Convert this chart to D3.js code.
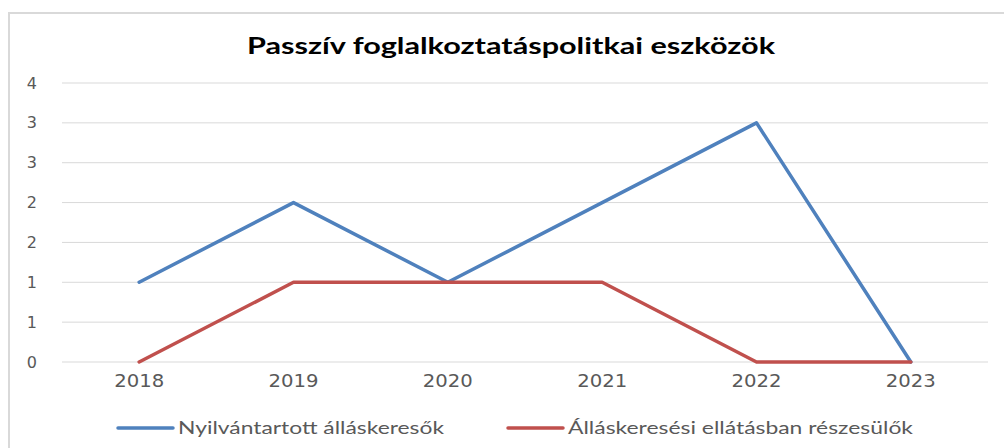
<!DOCTYPE html>
<html>
<head>
<meta charset="utf-8">
<script src="https://cdn.jsdelivr.net/npm/d3@7"></script>
<style>
  body { margin: 0; background: #fff; }
  svg { display: block; }
  .tick text { fill: #595959; }
</style>
</head>
<body>
<div id="chart"></div>
<script>
// data
const years = ['2018', '2019', '2020', '2021', '2022', '2023'];
const nyilvantartott = [1, 2, 1, 2, 3, 0];
const ellatasban = [0, 1, 1, 1, 0, 0];
const yTickValues = [0, 0.5, 1, 1.5, 2, 2.5, 3, 3.5];
const yTickLabels = ['0', '1', '1', '2', '2', '3', '3', '4'];
const seriesNames = ['Nyilvántartott álláskeresők', 'Álláskeresési ellátásban részesülők'];
const seriesColors = ['#4f81bd', '#c0504d'];

const W = 1004, H = 448;
const m = { t: 83, r: 16, b: 86, l: 62 };

const svg = d3.select('#chart').append('svg')
    .attr('width', W)
    .attr('height', H);

// chart area border
svg.append('rect')
    .attr('x', 9).attr('y', 13)
    .attr('width', W + 10).attr('height', H + 10)
    .attr('fill', 'none')
    .attr('stroke', '#d9d9d9')
    .attr('stroke-width', 2);

svg.append('text')
    .attr('x', 511).attr('y', 54)
    .attr('text-anchor', 'middle')
    .attr('font-family', 'Lato, "Open Sans", sans-serif')
    .attr('font-weight', 'bold')
    .attr('font-size', 22)
    .attr('textLength', 528)
    .attr('lengthAdjust', 'spacingAndGlyphs')
    .attr('fill', '#000')
    .text('Passzív foglalkoztatáspolitkai  eszközök');

const x = d3.scaleBand().domain(years).range([m.l, W - m.r]);
const y = d3.scaleLinear().domain([0, 3.5]).range([H - m.b, m.t]);

// gridlines
svg.append('g')
    .selectAll('line')
    .data(yTickValues)
    .join('line')
    .attr('x1', m.l).attr('x2', W - m.r)
    .attr('y1', d => y(d)).attr('y2', d => y(d))
    .attr('stroke', '#d9d9d9')
    .attr('stroke-width', 1);

const yAxis = svg.append('g')
    .attr('transform', `translate(${m.l},0)`)
    .call(d3.axisLeft(y).tickValues(yTickValues)
      .tickFormat((d, i) => yTickLabels[i]).tickSize(0).tickPadding(25));
yAxis.select('.domain').remove();
yAxis.selectAll('text')
    .attr('font-family', '"DejaVu Sans", sans-serif')
    .attr('font-size', 16);

const xAxis = svg.append('g')
    .attr('transform', `translate(0,${H - m.b})`)
    .call(d3.axisBottom(x).tickSize(0).tickPadding(13));
xAxis.select('.domain').remove();
xAxis.selectAll('text')
    .attr('font-family', '"DejaVu Sans", sans-serif')
    .attr('font-size', 17)
    .attr('textLength', 50)
    .attr('lengthAdjust', 'spacingAndGlyphs');

const line = d3.line()
    .x((d, i) => x(years[i]) + x.bandwidth() / 2)
    .y(d => y(d));

[nyilvantartott, ellatasban].forEach((s, k) => {
  svg.append('path')
      .datum(s)
      .attr('d', line)
      .attr('fill', 'none')
      .attr('stroke', seriesColors[k])
      .attr('stroke-width', 3.5)
      .attr('stroke-linejoin', 'round')
      .attr('stroke-linecap', 'round');
});

// legend
const legendX = [118, 508];
const legendLen = [266, 345];
const legend = svg.append('g');
seriesNames.forEach((name, k) => {
  legend.append('line')
      .attr('x1', legendX[k]).attr('x2', legendX[k] + 55)
      .attr('y1', 428).attr('y2', 428)
      .attr('stroke', seriesColors[k])
      .attr('stroke-width', 3.5)
      .attr('stroke-linecap', 'round');
  legend.append('text')
      .attr('x', legendX[k] + 60).attr('y', 434)
      .attr('font-family', 'Lato, "Open Sans", sans-serif')
      .attr('font-size', 18)
      .attr('fill', '#595959')
      .attr('textLength', legendLen[k])
      .attr('lengthAdjust', 'spacingAndGlyphs')
      .text(name);
});
</script>
</body>
</html>
